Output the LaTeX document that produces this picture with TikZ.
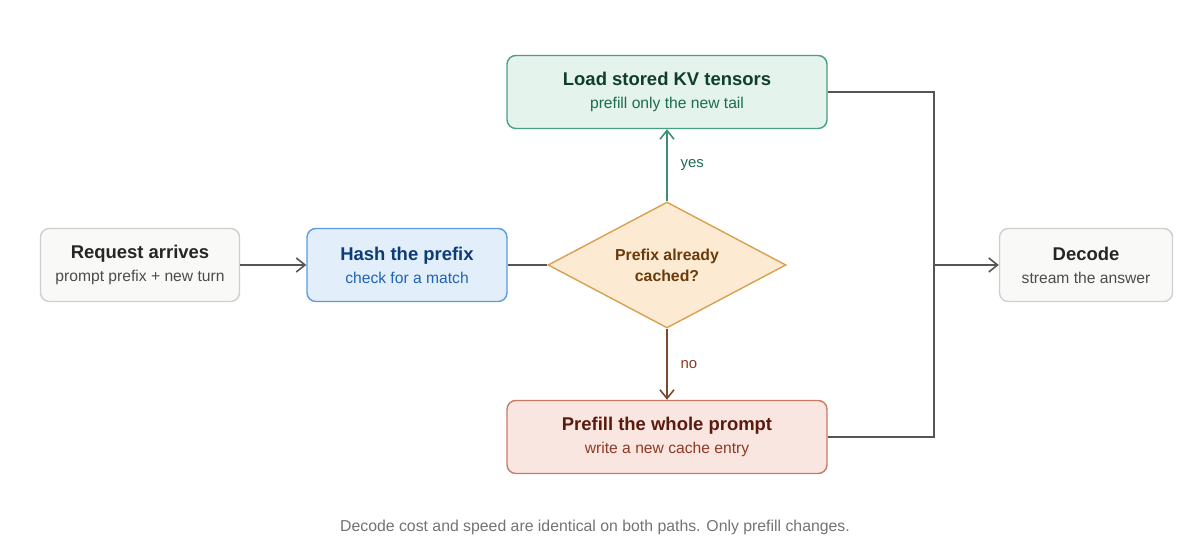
\documentclass[tikz,border=0pt]{standalone}
\usepackage{fontspec}
\setmainfont{Liberation Sans}
\usetikzlibrary{positioning,arrows.meta,shapes.geometric}
\definecolor{grayfill}{HTML}{F9F9F7}
\definecolor{grayline}{HTML}{CFCFCF}
\definecolor{bluefill}{HTML}{E3EEFB}
\definecolor{blueline}{HTML}{5B9BE0}
\definecolor{bluetext}{HTML}{0C3C78}
\definecolor{bluesub}{HTML}{1E64B4}
\definecolor{greenfill}{HTML}{E4F3EC}
\definecolor{greenline}{HTML}{4A9E85}
\definecolor{greentext}{HTML}{0F3D2E}
\definecolor{greensub}{HTML}{1D6B50}
\definecolor{orangefill}{HTML}{FCEBD2}
\definecolor{orangeline}{HTML}{D9A050}
\definecolor{orangetext}{HTML}{6B3A0A}
\definecolor{redfill}{HTML}{F9E6E1}
\definecolor{redline}{HTML}{C97A66}
\definecolor{redtext}{HTML}{5A1A0E}
\definecolor{redsub}{HTML}{8E3A24}
\definecolor{arrowgray}{HTML}{555555}
\definecolor{yesarrow}{HTML}{3E8E75}
\definecolor{noarrow}{HTML}{7A4A30}
\newcommand{\boxtext}[2]{{\fontsize{10.5}{12}\selectfont\bfseries #1}\\[1pt]{\fontsize{8.9}{10}\selectfont #2}}
\tikzset{
    stage/.style = {
        draw,
        shape=rectangle,
        rounded corners=5pt,
        align=center,
        minimum height=1.46cm,
        line width=0.8pt
    },
    check/.style = {
        draw,
        shape=diamond,
        aspect=1.9,
        align=center,
        inner sep=0pt,
        minimum width=4.76cm,
        minimum height=2.52cm,
        line width=0.8pt,
        font=\fontsize{9}{12}\selectfont\bfseries
    },
    flow/.style = {
        draw=arrowgray,
        line width=0.9pt,
        -{Straight Barb[length=5pt,width=8pt]}
    },
}

\begin{document}
\begin{tikzpicture}
        \useasboundingbox (0,0) rectangle (24,11.18);

        \node[stage, fill=grayfill, draw=grayline, minimum width=3.98cm, text=black!85] (request) at (2.8,5.88) {\boxtext{Request arrives}{\color{black!70}prompt prefix + new turn}};
        \node[stage, fill=bluefill, draw=blueline, minimum width=4cm, text=bluetext] (hash) at (8.14,5.88) {\boxtext{Hash the prefix}{\color{bluesub}check for a match}};
        \node[check, fill=orangefill, draw=orangeline, text=orangetext] (cached) at (13.34,5.88) {Prefix already\\cached?};
        \node[stage, fill=greenfill, draw=greenline, minimum width=6.4cm, text=greentext] (load) at (13.34,9.34) {\boxtext{Load stored KV tensors}{\color{greensub}prefill only the new tail}};
        \node[stage, fill=redfill, draw=redline, minimum width=6.4cm, text=redtext] (prefill) at (13.34,2.44) {\boxtext{Prefill the whole prompt}{\color{redsub}write a new cache entry}};
        \node[stage, fill=grayfill, draw=grayline, minimum width=3.46cm, text=black!85] (decode) at (21.72,5.88) {\boxtext{Decode}{\color{black!70}stream the answer}};
        \coordinate (merge) at (18.68,5.88);

        \node[text=black!55, font=\fontsize{9}{10}\selectfont] (note) at (11.9,0.64) {Decode cost and speed are identical on both paths. Only prefill changes.};

        \path[flow] (request) -- (hash);
        \path[draw=arrowgray, line width=0.9pt] (hash) -- (cached);
        \path[flow, draw=yesarrow] (cached) -- node[right=4pt, text=greensub, font=\fontsize{8.5}{10}\selectfont] {yes} (load);
        \path[flow, draw=noarrow] (cached) -- node[right=4pt, text=redsub, font=\fontsize{8.5}{10}\selectfont] {no} (prefill);

        \path[draw=arrowgray, line width=0.9pt] (load.east) -| (merge);
        \path[draw=arrowgray, line width=0.9pt] (prefill.east) -| (merge);
        \path[flow] (merge) -- (decode);
    \end{tikzpicture}
\end{document}
